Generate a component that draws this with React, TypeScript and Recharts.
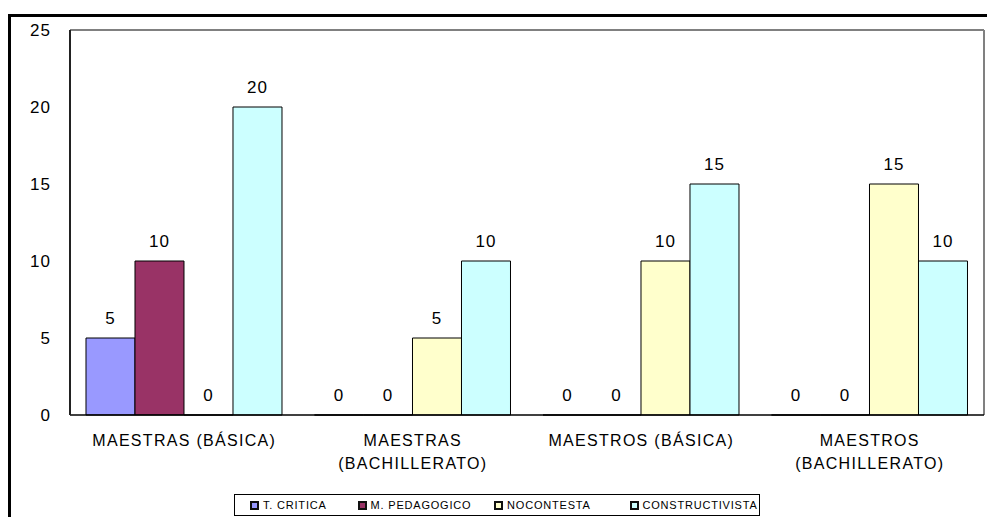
import { Bar, BarChart, CartesianGrid, LabelList, ReferenceLine, XAxis, YAxis } from "recharts"

const categories = [
  ["MAESTRAS (BÁSICA)"],
  ["MAESTRAS", "(BACHILLERATO)"],
  ["MAESTROS (BÁSICA)"],
  ["MAESTROS", "(BACHILLERATO)"],
]
const seriesNames = ["T. CRITICA", "M. PEDAGOGICO", "NOCONTESTA", "CONSTRUCTIVISTA"]
const tCritica = [5, 0, 0, 0]
const mPedagogico = [10, 0, 0, 0]
const noContesta = [0, 5, 10, 15]
const constructivista = [20, 10, 15, 10]
const yTicks = [0, 5, 10, 15, 20, 25]

const colors = ["#9999FF", "#993366", "#FFFFCC", "#CCFFFF"]
const keys = ["tc", "mp", "nc", "cs"]
const font = "'Liberation Sans', Arial, sans-serif"

const data = categories.map((lines, i) => ({
  name: lines.join(" "),
  tc: tCritica[i],
  mp: mPedagogico[i],
  nc: noContesta[i],
  cs: constructivista[i],
}))

function CategoryTick({ x, y, payload }: any) {
  const lines = categories[payload.index] ?? [payload.value]
  return (
    <text x={x} y={y} textAnchor="middle" fill="#000" fontSize={16} letterSpacing={1.3} fontFamily={font}>
      {lines.map((l, i) => (
        <tspan key={i} x={x} dy={i === 0 ? 23 : 23}>{l}</tspan>
      ))}
    </text>
  )
}

export default function App() {
  return (
    <div style={{ position: "fixed", left: 0, top: 0, width: 987, height: 517, background: "#fff", overflow: "hidden" }}>
      <div style={{ position: "absolute", left: 8, top: 14, width: 1000, height: 520, borderLeft: "3px solid #000", borderTop: "3px solid #000" }} />
      <div style={{ position: "absolute", left: 0, top: 0 }}>
        <BarChart width={987} height={517} data={data} margin={{ top: 30, right: 3, left: 10, bottom: 42 }}
          barCategoryGap="7%" barGap={0}>
          <CartesianGrid horizontal={false} stroke="#808080" strokeWidth={2}
            verticalCoordinatesGenerator={({ offset }: any) => [offset.left + offset.width]} />
          <XAxis dataKey="name" height={60} tickLine={false} interval={0} tick={<CategoryTick />}
            axisLine={{ stroke: "#000", strokeWidth: 1.5 }} />
          <YAxis width={60} domain={[0, 25]} ticks={yTicks} tickLine={false} tickMargin={13}
            axisLine={{ stroke: "#222", strokeWidth: 2 }}
            tick={{ fill: "#000", fontSize: 17, letterSpacing: 1, fontFamily: font }} />
          <ReferenceLine y={25} stroke="#808080" strokeWidth={2} />
          {keys.map((k, i) => (
            <Bar key={k} dataKey={k} name={seriesNames[i]} fill={colors[i]} stroke="#000" strokeWidth={1}
              minPointSize={0.01} isAnimationActive={false}>
              <LabelList dataKey={k} position="top" offset={14} fill="#000" fontSize={17} letterSpacing={1} fontFamily={font} />
            </Bar>
          ))}
        </BarChart>
      </div>
      <div style={{ position: "absolute", left: 234, top: 494, width: 524, height: 20, border: "1px solid #000",
        display: "flex", alignItems: "center", fontFamily: font, fontSize: 11, letterSpacing: 0.8, color: "#000" }}>
        {seriesNames.map((n, i) => (
          <div key={n} style={{ display: "flex", alignItems: "center", marginLeft: i === 0 ? 15 : 0,
            width: [108, 137, 136, 130][i] }}>
            <span style={{ display: "inline-block", width: 5, height: 5, background: colors[i], border: "2px solid #111", marginRight: 4 }} />
            {n}
          </div>
        ))}
      </div>
    </div>
  )
}
